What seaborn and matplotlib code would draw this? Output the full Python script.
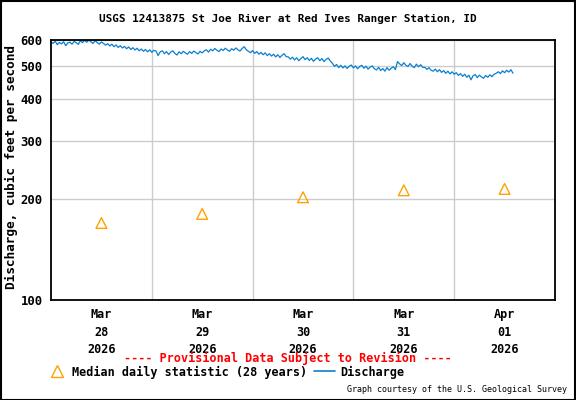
import seaborn as sns
import matplotlib.pyplot as plt
from matplotlib.patches import Rectangle
from matplotlib.lines import Line2D
import pandas as pd

# discharge, cfs, read every 30 minutes from Mar 28 00:00
discharge = [
    592, 586, 595, 581, 590, 584, 593, 577, 588, 591, 583, 594, 589, 582, 597, 589, 599, 591, 600, 593, 586, 597,
    590, 583, 592, 586, 579, 585, 576, 583, 573, 580, 570, 577, 568, 574, 565, 572, 562, 569, 560, 567,
    557, 564, 555, 562, 553, 561, 551, 559, 556,
    539, 553, 557, 546, 554, 543, 552, 557, 547, 541, 553, 546, 555, 549, 544, 554, 547, 556, 550, 545, 555, 549,
    557, 561, 552, 563, 557, 566, 559, 554, 564, 558, 567, 560, 555, 565, 559, 568, 561, 556, 566, 573,
    561, 555, 550, 558, 547, 554, 544, 551, 542, 549, 539, 546, 537, 544, 534, 542, 532, 540, 546, 535,
    534, 526, 533, 523, 531, 520, 528, 535, 524, 531, 521, 529, 518, 526, 531, 520, 528, 517, 525, 530, 519,
    511, 500, 507, 496, 504, 495, 502, 493, 501, 505, 495, 502, 492, 500, 504, 494, 501, 491, 498, 502,
    492, 488, 497, 486, 493, 484, 496, 487, 494, 499, 489,
    517, 509, 503, 513, 504, 500, 510, 501, 496, 508, 499, 506, 497,
    497, 490, 496, 487, 484, 491, 482, 489, 480, 486, 477, 484, 475, 482, 474,
    479, 470, 476, 467, 474, 464, 471, 456, 469, 473, 463, 471, 465, 461, 470, 464, 472, 466, 474,
    477, 482, 476, 485, 479, 487, 481, 489, 477,
]

median_days = ["2026-03-28 12:00", "2026-03-29 12:00", "2026-03-30 12:00",
               "2026-03-31 12:00", "2026-04-01 12:00"]
median_values = [170, 181, 203, 213, 215]

y_ticks = [100, 200, 300, 400, 500, 600]
x_labels = ["Mar\n28\n2026", "Mar\n29\n2026", "Mar\n30\n2026", "Mar\n31\n2026", "Apr\n01\n2026"]

title = "USGS 12413875 St Joe River at Red Ives Ranger Station, ID"

df = pd.DataFrame({
    "time": pd.date_range("2026-03-28 00:00", periods=len(discharge), freq="30min"),
    "discharge": discharge,
})
med = pd.DataFrame({"time": pd.to_datetime(median_days), "value": median_values})

sns.set_style("white")
plt.rcParams["font.family"] = ["DejaVu Sans Mono"]
plt.rcParams["font.weight"] = "bold"
for k in ["text.color", "axes.labelcolor", "xtick.color", "ytick.color"]:
    plt.rcParams[k] = "black"

fig = plt.figure(figsize=(5.76, 4.0), dpi=100)
ax = fig.add_axes([51 / 576, 0.25, 504 / 576, 0.65])

blue = "#0a7fd0"
orange = "#ffa200"

sns.lineplot(data=df, x="time", y="discharge", ax=ax, color=blue, linewidth=0.9)
sns.scatterplot(data=med, x="time", y="value", ax=ax, marker="^", s=60,
                facecolor="none", edgecolor=orange, linewidth=1.0, zorder=5)

ax.set_yscale("log")
ax.set_ylim(100, 600)
ax.set_xlim(pd.Timestamp("2026-03-28"), pd.Timestamp("2026-04-02"))
ax.set_yticks(y_ticks)
ax.set_yticklabels([str(v) for v in y_ticks], fontsize=8.8, fontweight="bold")
ax.yaxis.set_minor_locator(plt.NullLocator())
ax.set_xticks(pd.to_datetime(median_days))
ax.set_xticklabels(x_labels, fontsize=8.5, fontweight="bold", linespacing=1.45)
ax.set_xticks(pd.date_range("2026-03-29", periods=4, freq="D"), minor=True)
ax.tick_params(axis="both", which="both", length=0, pad=6)
ax.grid(True, which="minor", axis="x", color="#cccccc", linewidth=1)
ax.grid(True, which="major", axis="y", color="#cccccc", linewidth=1)
ax.set_xlabel("")
ax.set_ylabel("Discharge, cubic feet per second", fontsize=9.2, fontweight="bold")
ax.yaxis.set_label_coords(-0.066, 0.51)
for s in ax.spines.values():
    s.set_color("black")
    s.set_linewidth(1.3)

fig.text(0.5, 1 - 19 / 400, title, ha="center", va="center", fontsize=7.9, fontweight="bold")
fig.text(0.5, 1 - 358 / 400, "---- Provisional Data Subject to Revision ----",
         ha="center", va="center", color="red", fontsize=8.5, fontweight="bold")

handles = [
    Line2D([], [], marker="^", linestyle="none", markerfacecolor="none",
           markeredgecolor=orange, markersize=8),
    Line2D([], [], color=blue, linewidth=1.2),
]
fig.legend(handles, ["Median daily statistic (28 years)", "Discharge"],
           loc="center left", bbox_to_anchor=(46 / 576, 1 - 372 / 400), ncol=2,
           frameon=False, fontsize=8.5, handlelength=1.8, handletextpad=0.4,
           columnspacing=0.6, borderpad=0, borderaxespad=0)

fig.text(567 / 576, 1 - 390 / 400, "Graph courtesy of the U.S. Geological Survey",
         ha="right", va="center", fontsize=6, fontweight="normal")

fig.patches.append(Rectangle((0.001, 0.001), 0.997, 0.997, transform=fig.transFigure,
                             fill=False, edgecolor="black", linewidth=1.5))

fig.savefig("out.png", dpi=100)
